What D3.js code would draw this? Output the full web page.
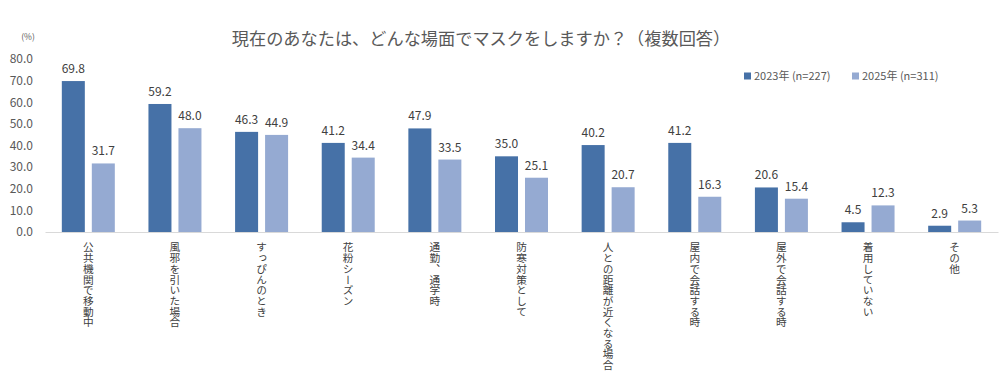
<!DOCTYPE html>
<html><head><meta charset="utf-8">
<script src="https://cdn.jsdelivr.net/npm/d3@7"></script>
<style>
html,body{margin:0;padding:0;background:#fff;}
svg{display:block;}
text{font-family:"Noto Sans CJK JP","Noto Sans",sans-serif;}
</style></head>
<body>
<svg id="chart" width="1000" height="380"></svg>
<script>
const categories = ["公共機関で移動中","風邪を引いた場合","すっぴんのとき","花粉シーズン","通勤、通学時","防寒対策として","人との距離が近くなる場合","屋内で会話する時","屋外で会話する時","着用していない","その他"];
const seriesNames = ["2023年 (n=227)","2025年 (n=311)"];
const values2023 = [69.8,59.2,46.3,41.2,47.9,35.0,40.2,41.2,20.6,4.5,2.9];
const values2025 = [31.7,48.0,44.9,34.4,33.5,25.1,20.7,16.3,15.4,12.3,5.3];
const yTicks = [0,10,20,30,40,50,60,70,80];
const title = "現在のあなたは、どんな場面でマスクをしますか？（複数回答）";
const unitLabel = "(%)";

const colors = ["#4671A7","#95AAD2"];
const seriesValues = [values2023, values2025];

const svg = d3.select("#chart");
const x = d3.scaleBand().domain(categories).range([45, 998]).paddingInner(0).paddingOuter(0);
const bw = x.bandwidth();
const groupW = 53;
const xs = d3.scaleBand().domain([0,1]).range([(bw-groupW)/2, (bw+groupW)/2]).paddingInner(0.233).paddingOuter(0);
const y = d3.scaleLinear().domain([0,80]).range([232, 59]);

// title
svg.append("text").attr("x", 481).attr("y", 45).attr("text-anchor","middle")
  .attr("font-size", 17.2).style("fill","#595959").text(title);

// unit
svg.append("text").attr("x", 28).attr("y", 40).attr("text-anchor","middle")
  .attr("font-size", 8.5).style("fill","#595959").text(unitLabel);

// y axis
const yAxis = d3.axisLeft(y).tickValues(yTicks).tickFormat(d3.format(".1f")).tickSize(0).tickPadding(0);
const ya = svg.append("g").attr("transform","translate(33,0)").call(yAxis);
ya.select(".domain").remove();
ya.selectAll("text").attr("font-size", 12).style("fill","#595959")
  .style("font-family","'Noto Sans CJK JP',sans-serif");

// bars
const groups = svg.append("g").selectAll("g").data(categories).join("g")
  .attr("transform", d => `translate(${x(d)},0)`);
[0,1].forEach(s => {
  groups.append("rect")
    .attr("x", xs(s)).attr("width", xs.bandwidth())
    .attr("y", (d,i) => y(seriesValues[s][i]))
    .attr("height", (d,i) => y(0) - y(seriesValues[s][i]))
    .attr("fill", colors[s]);
  groups.append("text")
    .attr("x", xs(s) + xs.bandwidth()/2)
    .attr("y", (d,i) => y(seriesValues[s][i]) - 8)
    .attr("text-anchor","middle").attr("font-size", 12).style("fill","#404040")
    .text((d,i) => d3.format(".1f")(seriesValues[s][i]));
});

// x axis line
const xAxis = d3.axisBottom(x).tickSize(0).tickFormat("");
const xa = svg.append("g").attr("transform", `translate(0,${y(0)})`).call(xAxis);
xa.select(".domain").attr("stroke","#d9d9d9").attr("stroke-width",1.2);

// category labels (vertical)
svg.append("g").selectAll("text").data(categories).join("text")
  .attr("x", d => x(d) + bw/2).attr("y", 242)
  .attr("font-size", 10.7).style("fill","#404040")
  .style("writing-mode","vertical-rl").style("text-orientation","mixed")
  .attr("text-anchor","start")
  .text(d => d);

// legend
const legX = [744, 852];
seriesNames.forEach((n, i) => {
  svg.append("rect").attr("x", legX[i]).attr("y", 72.5).attr("width", 7).attr("height", 7).attr("fill", colors[i]);
  svg.append("text").attr("x", legX[i] + 10).attr("y", 80).attr("font-size", 11).style("fill","#595959").text(n);
});
</script>
</body></html>
